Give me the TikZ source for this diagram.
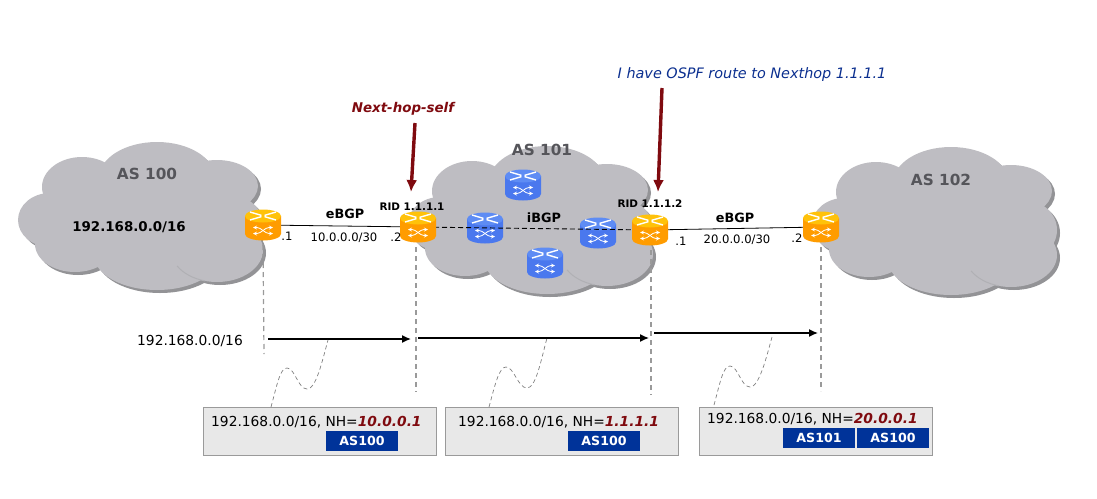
\documentclass[tikz,border=0pt]{standalone}
\usepackage{fontspec}
\setmainfont{DejaVu Sans}
\usetikzlibrary{calc,arrows.meta}
\definecolor{cloudgrey}{HTML}{BEBDC2}
\definecolor{cloudshade}{HTML}{939396}
\definecolor{cloudfold}{HTML}{B0B0B4}
\definecolor{boxgrey}{HTML}{E8E8E8}
\definecolor{boxline}{HTML}{9A9A9A}
\definecolor{asblue}{HTML}{003399}
\definecolor{darkred}{HTML}{7F0A0F}
\definecolor{ospfblue}{HTML}{0B2F8F}
\definecolor{asgrey}{HTML}{55555A}
\definecolor{orangebody}{HTML}{FF9C00}
\definecolor{orangetop}{HTML}{FFC20A}
\definecolor{bluebody}{HTML}{4A78EE}
\definecolor{bluetop}{HTML}{5E8CF4}
\tikzset{
  asname/.style={font=\fontsize{15.3}{17}\selectfont\bfseries,text=asgrey},
  small/.style={font=\fontsize{11.6}{14}\selectfont},
  bold/.style={font=\fontsize{12.8}{15}\selectfont\bfseries},
  rid/.style={font=\fontsize{10.4}{12}\selectfont\bfseries},
  plain/.style={font=\fontsize{13.8}{16}\selectfont},
  routebox/.style={draw=boxline,fill=boxgrey,line width=1pt,minimum width=233pt,minimum height=48pt,inner sep=0pt},
  aspath/.style={fill=asblue,text=white,font=\fontsize{12.6}{14}\selectfont\bfseries,minimum width=72pt,minimum height=20pt,inner sep=0pt},
  drop/.style={dash pattern=on 5pt off 4pt,boxline,line width=1.2pt},
  squiggle/.style={dash pattern=on 4pt off 3pt,gray,line width=0.7pt},
  update/.style={black,line width=1.4pt,-{Latex[length=9pt,width=8pt]}},
  callout/.style={darkred,line width=3.4pt,-{Latex[length=12pt,width=11pt]}},
  pics/cloud/.style={code={
    \foreach \dx/\dy/\rx/\ry in {15/-40/58/36,-60/-31/40/30,75/-32/41/26,-92/2/32/27,-67/26/40/28,15/37/63/35,75/32/46/32,88/7/33/30}
      \fill[cloudshade] (\dx+3,\dy+3) circle [x radius=\rx,y radius=\ry];
    \foreach \dx/\dy/\rx/\ry in {15/-40/58/36,-60/-31/40/30,75/-32/41/26,-92/2/32/27,-67/26/40/28,15/37/63/35,75/32/46/32,88/7/33/30,0/0/100/50}
      \fill[cloudgrey] (\dx,\dy) circle [x radius=\rx,y radius=\ry];
    \draw[cloudfold,line width=1pt] (75,32) ++(150:46 and 32) arc [start angle=150,end angle=105,x radius=46,y radius=32];
  }},
  pics/router/.style 2 args={code={
    \fill[#1] (-18,-9) -- (-18,9) arc [start angle=180,end angle=0,x radius=18,y radius=6.5] -- (18,-9) -- cycle;
    \fill[#2] (0,-9) circle [x radius=18,y radius=6.5];
    \draw[white,line width=1.4pt] (-13,-13) -- (-1.5,-9.6) (13,-13) -- (1.5,-9.6) (-13,-5) -- (-1.5,-8.4) (13,-5) -- (1.5,-8.4);
    \draw[white,line width=0.8pt,<->,>=stealth] (-10,2.5) -- (-6,2.5) .. controls (-2,2.5) and (2,8.5) .. (6,8.5) -- (10,8.5);
    \draw[white,line width=0.8pt,<->,>=stealth] (-10,8.5) -- (-6,8.5) .. controls (-2,8.5) and (2,2.5) .. (6,2.5) -- (10,2.5);
  }}
}
\begin{document}
\begin{tikzpicture}[x=1pt,y=-1pt]
\useasboundingbox (0,0) rectangle (1097,498);
\pic at (142,218) {cloud};
\pic at (532,222) {cloud};
\pic at (936,223) {cloud};
\coordinate (rA) at (263,225);
\coordinate (rB) at (418,227);
\coordinate (rC) at (650,230);
\coordinate (rD) at (821,227);
\coordinate (b1) at (485,228);
\coordinate (b2) at (523,185);
\coordinate (b3) at (598,233);
\coordinate (b4) at (545,263);
\coordinate (nhs) at (415,123);
\coordinate (nhsend) at (411,192);
\coordinate (ospf) at (662,88);
\coordinate (ospfend) at (658,192);
\pic at (b1) {router={bluebody}{bluetop}};
\pic at (b2) {router={bluebody}{bluetop}};
\pic at (b3) {router={bluebody}{bluetop}};
\pic at (b4) {router={bluebody}{bluetop}};
\draw[black,line width=0.8pt] (rA)--(rB);
\draw[black,line width=0.9pt,dash pattern=on 5pt off 3pt] (rB)--(rC);
\draw[black,line width=0.8pt] (rC)--(rD);
\pic at (rA) {router={orangebody}{orangetop}};
\pic at (rB) {router={orangebody}{orangetop}};
\pic at (rC) {router={orangebody}{orangetop}};
\pic at (rD) {router={orangebody}{orangetop}};
\draw[callout] (nhs)--(nhsend);
\draw[callout] (ospf)--(ospfend);
\coordinate (dA) at (264,354);
\coordinate (dB) at (416,392);
\coordinate (dC) at (651,395);
\coordinate (dD) at (821,391);
\draw[drop] ($(rA)+(0,20)$)--(dA);
\draw[drop] ($(rB)+(-2,20)$)--(dB);
\draw[drop] ($(rC)+(1,20)$)--(dC);
\draw[drop] ($(rD)+(0,20)$)--(dD);
\coordinate (uA) at (268,339);
\coordinate (uB) at (411,339);
\coordinate (uC) at (418,338);
\coordinate (uD) at (649,338);
\coordinate (uE) at (654,333);
\coordinate (uF) at (818,333);
\draw[update] (uA)--(uB);
\draw[update] (uC)--(uD);
\draw[update] (uE)--(uF);
\node[routebox] (boxA) at (320,431) {};
\node[routebox] (boxB) at (562,431) {};
\node[routebox] (boxC) at (815.5,431) {};
\draw[squiggle] (271,407) .. controls (277,385) and (280,368) .. (287,368) .. controls (295,368) and (298,389) .. (307,389) .. controls (316,389) and (322,362) .. (328,340);
\draw[squiggle] (489,407) .. controls (495,385) and (499,367) .. (506,367) .. controls (514,367) and (518,388) .. (527,388) .. controls (536,388) and (541,360) .. (547,338);
\draw[squiggle] (714,405) .. controls (720,383) and (723,366) .. (730,366) .. controls (738,366) and (741,387) .. (750,387) .. controls (759,387) and (766,359) .. (772,337);
\node[plain,anchor=west,inner sep=0pt] (routeA) at (211,422) {192.168.0.0/16, NH=\textcolor{darkred}{\textbf{\textit{10.0.0.1}}}};
\node[plain,anchor=west,inner sep=0pt] (routeB) at (458,422) {192.168.0.0/16, NH=\textcolor{darkred}{\textbf{\textit{1.1.1.1}}}};
\node[plain,anchor=west,inner sep=0pt] (routeC) at (707,419) {192.168.0.0/16, NH=\textcolor{darkred}{\textbf{\textit{20.0.0.1}}}};
\node[aspath] (pathA) at (362,441) {AS100};
\node[aspath] (pathB) at (604,441) {AS100};
\node[aspath] (pathC) at (819,438) {AS101};
\node[aspath] (pathD) at (893,438) {AS100};
\node[asname] (asA) at (147,174) {AS 100};
\node[asname] (asB) at (542,150) {AS 101};
\node[asname] (asC) at (941,180) {AS 102};
\node[font=\fontsize{13.4}{16}\selectfont\bfseries] (net) at (129,227) {192.168.0.0/16};
\node[plain] (origin) at (190,341) {192.168.0.0/16};
\node[bold] (ebgpA) at (345,214) {eBGP};
\node[bold] (ibgp) at (544,218) {iBGP};
\node[bold] (ebgpB) at (735,218) {eBGP};
\node[small] (subA) at (344,238) {10.0.0.0/30};
\node[small] (subB) at (737,240) {20.0.0.0/30};
\node[rid] (ridA) at (412,207) {RID 1.1.1.1};
\node[rid] (ridB) at (650,204) {RID 1.1.1.2};
\node[small] (dotA) at (287,236) {.1};
\node[small] (dotB) at (396,237) {.2};
\node[small] (dotC) at (681,241) {.1};
\node[small] (dotD) at (797,238) {.2};
\node[font=\fontsize{13.4}{16}\selectfont\bfseries\itshape,text=darkred] (nhstext) at (403,109) {Next-hop-self};
\node[font=\fontsize{14.4}{16}\selectfont\itshape,text=ospfblue] (ospftext) at (752,75) {I have OSPF route to Nexthop 1.1.1.1};
\end{tikzpicture}
\end{document}
